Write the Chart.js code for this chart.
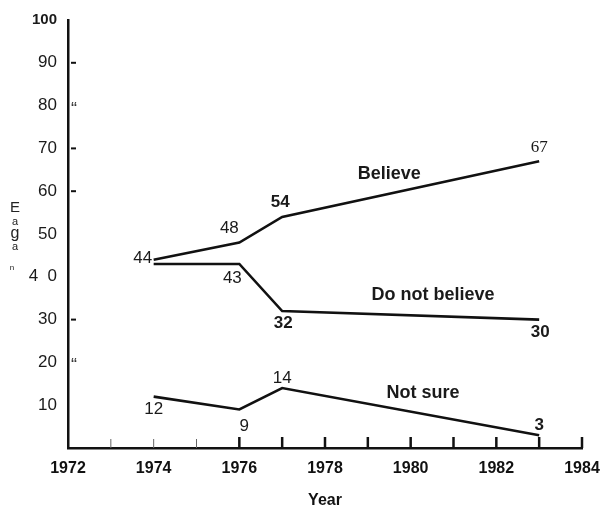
<!DOCTYPE html>
<html>
<head>
<meta charset="utf-8">
<script src="https://cdn.jsdelivr.net/npm/chart.js@4/dist/chart.umd.min.js"></script>
<style>
  html, body { margin: 0; padding: 0; background: #fff; }
  #wrap { width: 600px; height: 510px; }
</style>
</head>
<body>
<div id="wrap"><canvas id="c" width="600" height="510"></canvas></div>
<script>
// ---- data ----
const years = [1974, 1976, 1977, 1983];
const believe = [44, 48, 54, 67];
const doNotBelieve = [43, 43, 32, 30];
const notSure = [12, 9, 14, 3];
const seriesNames = ['Believe', 'Do not believe', 'Not sure'];
const believeLabels = ['44', '48', '54', '67'];
const doNotBelieveLabels = ['', '43', '32', '30'];
const notSureLabels = ['12', '9', '14', '3'];
const xTickYears = [1972, 1974, 1976, 1978, 1980, 1982, 1984];
const yTickValues = [10, 20, 30, 40, 50, 60, 70, 80, 90, 100];
const xTitle = 'Year';

const FONT = '"Liberation Sans", Arial, sans-serif';

// label styling / placement (offsets in px from each point)
const labelStyle = [
  [ {dx:-11, dy:-1, bold:false}, {dx:-10, dy:-14, bold:false}, {dx:-2, dy:-15, bold:true}, {dx:0, dy:-14, bold:false, serif:true} ],
  [ null, {dx:-7, dy:14, bold:false}, {dx:1, dy:12, bold:true}, {dx:1, dy:13, bold:true} ],
  [ {dx:0, dy:13, bold:false}, {dx:5, dy:17, bold:false}, {dx:0, dy:-10, bold:false}, {dx:0, dy:-10, bold:true} ]
];
const nameStyle = [
  {x:1979.5, y:64, size:18},
  {x:1980.52, y:35.7, size:18},
  {x:1980.29, y:12.85, size:18}
];

const pts = arr => years.map((y, i) => ({x: y, y: arr[i]}));
const allLabels = [believeLabels, doNotBelieveLabels, notSureLabels];

const decor = {
  id: 'decor',
  afterDatasetsDraw(chart) {
    const {ctx, scales: {x, y}} = chart;
    ctx.save();
    // x tick marks (pointing up)
    for (let yr = 1973; yr <= 1984; yr++) {
      const px = x.getPixelForValue(yr);
      const thin = yr <= 1975;
      ctx.strokeStyle = thin ? '#666' : '#111';
      ctx.lineWidth = thin ? 1 : 2.5;
      ctx.beginPath();
      ctx.moveTo(px, y.getPixelForValue(0));
      ctx.lineTo(px, y.getPixelForValue(0) - (thin ? 9 : 11));
      ctx.stroke();
    }
    // y tick marks (inside)
    const x0 = x.getPixelForValue(1972);
    ctx.strokeStyle = '#111';
    ctx.lineWidth = 2;
    [90, 70, 60, 30].forEach(v => {
      const py = y.getPixelForValue(v);
      ctx.beginPath(); ctx.moveTo(x0 + 3, py); ctx.lineTo(x0 + 8, py); ctx.stroke();
    });
    ctx.fillStyle = '#333';
    ctx.font = '18px ' + FONT;
    ctx.textAlign = 'center';
    ctx.textBaseline = 'middle';
    [80, 20].forEach(v => ctx.fillText('\u201C', x0 + 6, y.getPixelForValue(v) + 4));

    // value labels
    ctx.fillStyle = '#1a1a1a';
    chart.data.datasets.forEach((ds, di) => {
      const meta = chart.getDatasetMeta(di);
      meta.data.forEach((el, i) => {
        const st = labelStyle[di][i];
        const txt = allLabels[di][i];
        if (!st || !txt) return;
        ctx.font = (st.bold ? 'bold ' : '') + '17px ' + (st.serif ? '"Liberation Serif", serif' : FONT);
        ctx.fillText(txt, el.x + st.dx, el.y + st.dy);
      });
    });
    // series names
    seriesNames.forEach((n, i) => {
      const s = nameStyle[i];
      ctx.font = 'bold ' + s.size + 'px ' + FONT;
      ctx.fillText(n, x.getPixelForValue(s.x), y.getPixelForValue(s.y));
    });
    // y title remnants (scan)
    ctx.font = '15px ' + FONT;
    ctx.fillStyle = '#222';
    ctx.fillText('E', 15, 208);
    ctx.font = '11px ' + FONT;
    ctx.fillText('a', 15, 222);
    ctx.font = '16px ' + FONT;
    ctx.fillText('g', 15, 234);
    ctx.font = '11px ' + FONT;
    ctx.fillText('a', 15, 247);
    ctx.font = '8px ' + FONT;
    ctx.fillText('n', 12, 268);
    ctx.restore();
  }
};

new Chart(document.getElementById('c'), {
  type: 'line',
  data: {
    datasets: [
      { label: seriesNames[0], data: pts(believe) },
      { label: seriesNames[1], data: pts(doNotBelieve) },
      { label: seriesNames[2], data: pts(notSure) }
    ].map(d => Object.assign(d, {
      borderColor: '#111', borderWidth: 2.6, pointRadius: 0, tension: 0, fill: false
    }))
  },
  options: {
    responsive: false,
    animation: false,
    layout: { padding: { top: 20, right: 18, left: 0, bottom: 0 } },
    plugins: { legend: { display: false }, tooltip: { enabled: false } },
    scales: {
      x: {
        type: 'linear', min: 1972, max: 1984,
        afterFit: s => { s.height = 62; s.paddingLeft = 0; s.paddingRight = 0; },
        grid: { display: false, drawTicks: false },
        border: { display: true, color: '#111', width: 2.5 },
        afterBuildTicks: s => { s.ticks = xTickYears.map(v => ({value: v})); },
        ticks: {
          autoSkip: false, maxRotation: 0, padding: 11, color: '#111',
          font: { family: FONT, size: 16, weight: 'bold' },
          callback: v => String(v)
        },
        title: { display: true, text: xTitle, color: '#111', padding: {top: 8, bottom: 0},
          font: { family: FONT, size: 16, weight: 'bold' } }
      },
      y: {
        min: 0, max: 100,
        afterFit: s => { s.width = 68; s.paddingTop = 0; s.paddingBottom = 0; },
        grid: { display: false, drawTicks: false },
        border: { display: true, color: '#111', width: 2.5 },
        afterBuildTicks: s => { s.ticks = yTickValues.map(v => ({value: v})); },
        ticks: {
          padding: 11, color: '#1a1a1a',
          font: c => (c.tick && c.tick.value === 100) ? { family: FONT, size: 15, weight: 'bold' } : { family: FONT, size: 17 },
          callback: v => v === 40 ? '4  0' : String(v)
        }
      }
    }
  },
  plugins: [decor]
});
</script>
</body>
</html>
